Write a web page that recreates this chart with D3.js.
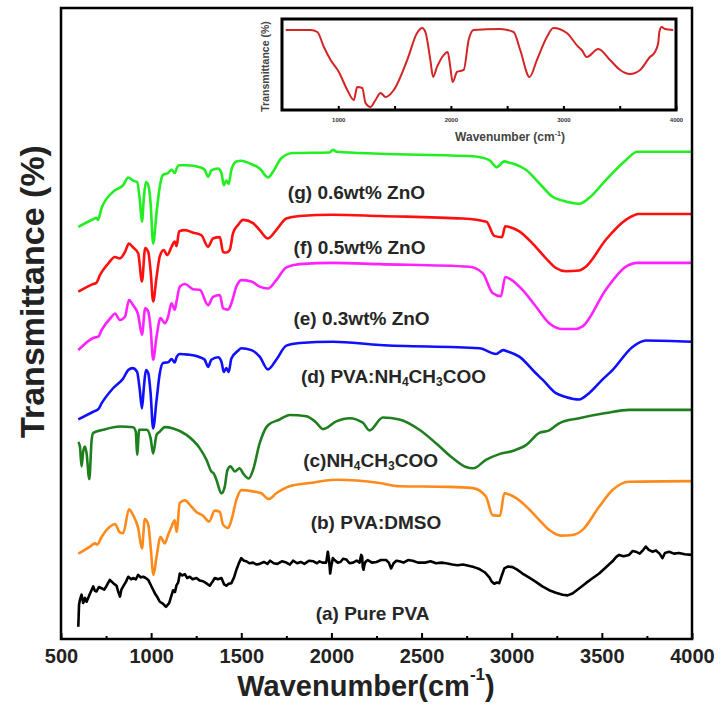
<!DOCTYPE html>
<html>
<head>
<meta charset="utf-8">
<script src="https://cdn.jsdelivr.net/npm/d3@7"></script>
<style>
  body { margin:0; background:#fff; }
  text { font-family: Arial, "Liberation Sans", sans-serif; font-weight: bold; }
</style>
</head>
<body>
<div id="ftir"></div>
<script>
// [wavenumber (cm-1), transmittance (arb. offset %)]
const purePVA = [[596,3.6],[600,7.0],[605,7.8],[614,8.6],[623,7.3],[633,8.1],[642,7.5],[661,8.8],[679,9.9],[688,9.2],[697,9.1],[710,9.8],[725,9.6],[740,9.4],[753,10.0],[771,10.9],[790,10.4],[808,10.0],[818,9.0],[827,8.3],[835,9.4],[845,9.9],[860,10.6],[873,11.4],[890,11.0],[900,11.2],[915,11.0],[928,11.7],[942,11.3],[956,11.4],[970,11.2],[984,10.9],[1000,10.0],[1021,8.8],[1035,8.2],[1048,7.5],[1065,7.2],[1082,6.7],[1100,7.3],[1112,8.4],[1122,9.3],[1132,9.0],[1141,10.1],[1150,10.5],[1159,11.9],[1172,11.6],[1187,11.8],[1200,11.2],[1214,11.4],[1230,11.0],[1251,11.2],[1270,10.8],[1288,10.7],[1305,10.4],[1325,10.0],[1340,10.6],[1353,11.2],[1370,11.0],[1390,11.2],[1405,10.2],[1417,10.0],[1430,10.3],[1445,10.4],[1460,11.3],[1473,12.5],[1488,13.6],[1500,14.3],[1515,13.9],[1528,13.8],[1545,13.5],[1565,13.6],[1585,13.3],[1602,13.4],[1625,13.7],[1645,13.4],[1660,13.9],[1680,13.5],[1700,13.4],[1725,13.8],[1750,13.6],[1770,13.3],[1787,13.9],[1810,13.5],[1830,13.7],[1850,13.4],[1875,13.9],[1900,13.8],[1920,13.5],[1934,13.8],[1950,13.6],[1971,13.6],[1980,15.3],[1987,14.0],[1993,11.9],[2000,13.2],[2008,14.3],[2017,14.0],[2035,13.6],[2050,13.7],[2065,14.2],[2082,14.1],[2100,13.5],[2120,13.6],[2140,13.9],[2156,13.6],[2165,14.8],[2170,14.6],[2174,12.9],[2178,12.5],[2185,13.5],[2192,13.8],[2202,14.0],[2225,13.6],[2250,13.7],[2275,14.0],[2303,14.0],[2318,13.6],[2331,12.7],[2345,13.5],[2360,13.9],[2377,13.8],[2400,13.6],[2425,14.0],[2451,13.9],[2480,13.6],[2520,13.6],[2550,13.8],[2580,13.5],[2610,13.6],[2636,13.5],[2670,13.3],[2700,13.2],[2730,13.3],[2760,13.1],[2790,12.9],[2821,12.6],[2850,12.1],[2876,11.3],[2890,10.6],[2903,10.3],[2918,10.5],[2931,10.4],[2945,11.6],[2959,12.7],[2980,13.0],[3005,12.9],[3030,12.5],[3060,11.9],[3095,11.3],[3134,10.6],[3170,9.9],[3208,9.3],[3245,8.9],[3282,8.6],[3310,8.5],[3337,8.8],[3370,9.5],[3411,10.4],[3450,11.2],[3485,11.9],[3520,12.8],[3559,13.8],[3580,14.5],[3596,14.8],[3620,14.6],[3651,14.8],[3670,15.4],[3688,15.3],[3710,15.0],[3730,15.6],[3744,16.1],[3760,15.6],[3780,15.3],[3800,15.5],[3820,15.0],[3836,14.3],[3850,15.1],[3873,15.3],[3900,15.0],[3928,15.1],[3960,14.9],[4000,14.8]]

const pvaDmso = [[596,15.0],[661,16.1],[688,16.6],[701,16.4],[725,17.6],[771,19.2],[799,19.6],[827,18.3],[845,18.2],[877,21.9],[900,21.0],[928,19.0],[949,15.8],[965,20.4],[984,19.5],[997,16.1],[1013,11.7],[1030,14.5],[1052,17.6],[1076,16.6],[1094,17.9],[1113,19.2],[1131,20.2],[1141,18.4],[1159,22.9],[1187,23.3],[1224,22.3],[1251,21.5],[1288,20.9],[1321,20.0],[1353,21.7],[1381,21.5],[1399,19.5],[1427,19.0],[1445,20.2],[1473,23.4],[1500,24.9],[1565,24.7],[1611,24.4],[1653,23.5],[1694,24.4],[1768,25.5],[1879,26.0],[2027,26.5],[2267,26.0],[2377,25.5],[2636,25.4],[2783,25.2],[2857,23.9],[2894,21.0],[2935,20.9],[2959,24.4],[2996,24.1],[3060,22.9],[3134,20.8],[3208,18.7],[3273,17.8],[3337,17.9],[3393,18.7],[3485,22.3],[3559,24.9],[3651,26.2],[4000,26.3]]

const nh4Ac = [[596,32.4],[605,31.7],[614,28.6],[623,30.9],[633,31.7],[642,30.6],[657,26.6],[670,32.7],[679,33.8],[734,34.3],[827,34.8],[900,34.7],[915,34.0],[922,30.4],[934,34.3],[975,34.3],[997,33.0],[1011,30.6],[1030,33.5],[1048,34.0],[1076,34.7],[1122,34.5],[1196,33.5],[1270,31.4],[1307,29.6],[1334,27.8],[1347,27.5],[1362,26.5],[1390,24.4],[1408,25.4],[1423,28.0],[1440,28.6],[1464,27.8],[1491,28.3],[1510,27.5],[1541,26.7],[1565,28.0],[1602,32.2],[1648,35.0],[1713,35.9],[1768,36.6],[1861,36.4],[1916,35.4],[1953,34.4],[2027,35.6],[2100,36.1],[2174,35.4],[2211,34.2],[2285,36.2],[2377,35.9],[2488,34.3],[2580,32.2],[2672,29.9],[2746,28.5],[2787,28.3],[2857,29.6],[2931,30.5],[3005,31.0],[3079,31.9],[3153,33.8],[3208,34.2],[3263,35.3],[3374,36.1],[3522,36.9],[3651,37.4],[4000,37.4]]

const pvaNh4 = [[596,35.9],[679,37.1],[707,37.5],[725,38.4],[790,40.8],[845,42.3],[873,43.6],[897,43.9],[922,43.3],[937,40.5],[949,37.6],[960,41.0],[971,43.6],[984,43.1],[997,40.0],[1011,34.5],[1030,38.9],[1048,43.1],[1066,44.7],[1094,44.8],[1113,45.3],[1131,44.8],[1141,45.6],[1159,46.1],[1205,46.0],[1270,45.6],[1297,45.2],[1316,44.1],[1334,45.2],[1371,45.6],[1390,44.9],[1403,43.3],[1417,43.9],[1430,43.3],[1445,45.4],[1482,46.6],[1500,47.0],[1556,46.7],[1602,45.7],[1648,43.7],[1694,45.2],[1750,47.4],[1824,47.8],[2008,48.0],[2267,47.5],[2821,47.0],[2913,46.1],[2953,46.7],[2977,46.5],[3042,45.7],[3134,43.1],[3171,42.1],[3245,40.0],[3300,39.4],[3374,39.0],[3429,40.0],[3503,42.1],[3559,43.6],[3670,47.2],[3744,48.2],[4000,48.0]]

const zno03 = [[596,46.7],[679,48.6],[707,48.8],[725,49.8],[781,51.9],[799,52.4],[827,51.4],[855,51.9],[877,54.5],[900,53.7],[928,52.2],[949,49.1],[967,53.2],[984,52.7],[998,49.8],[1011,45.2],[1030,48.8],[1052,51.7],[1076,50.9],[1094,51.9],[1113,54.0],[1131,53.0],[1141,54.3],[1159,56.6],[1187,57.0],[1233,56.2],[1270,56.1],[1316,53.7],[1343,55.0],[1381,55.3],[1399,53.2],[1427,53.0],[1445,54.0],[1473,56.6],[1500,57.6],[1556,57.4],[1602,56.6],[1648,56.3],[1694,57.6],[1750,59.6],[1824,60.1],[2008,60.3],[2267,60.1],[2765,59.7],[2839,58.7],[2894,55.6],[2940,55.1],[2964,58.1],[2996,57.7],[3060,56.1],[3134,53.5],[3208,50.9],[3282,50.0],[3356,50.0],[3393,50.4],[3522,56.1],[3633,59.7],[3697,60.3],[4000,60.3]]

const zno05 = [[596,55.8],[670,56.9],[697,57.2],[716,58.4],[762,60.2],[799,61.2],[827,61.0],[855,62.0],[877,63.3],[900,62.7],[928,61.8],[949,57.4],[967,62.6],[984,62.0],[998,58.7],[1011,54.3],[1030,58.1],[1048,61.3],[1070,62.3],[1089,61.5],[1113,62.8],[1131,63.6],[1141,62.9],[1155,65.2],[1187,65.4],[1233,65.0],[1279,64.6],[1316,62.8],[1343,64.1],[1381,64.3],[1399,62.0],[1417,61.9],[1436,62.3],[1454,64.9],[1482,66.2],[1510,67.0],[1565,66.5],[1602,65.4],[1648,64.1],[1694,65.4],[1750,67.2],[1824,67.6],[2008,67.8],[2267,67.6],[2730,67.2],[2860,66.7],[2903,64.5],[2946,64.3],[2964,66.0],[2996,65.8],[3042,65.2],[3116,63.3],[3190,61.0],[3245,59.5],[3300,59.0],[3374,59.1],[3411,59.7],[3522,63.9],[3633,67.0],[3707,67.9],[4000,67.9]]

const zno06 = [[596,65.9],[679,67.1],[697,67.3],[705,67.0],[725,68.8],[790,71.4],[845,72.4],[873,73.6],[900,73.1],[922,72.9],[937,70.1],[949,66.7],[960,70.6],[971,72.9],[984,72.4],[997,69.6],[1011,63.3],[1030,68.1],[1048,72.2],[1066,74.0],[1094,74.3],[1113,74.8],[1131,74.3],[1141,75.0],[1155,75.5],[1196,75.5],[1270,75.2],[1297,74.8],[1316,73.7],[1334,74.7],[1371,75.0],[1390,74.3],[1403,72.4],[1417,73.1],[1430,72.6],[1445,74.8],[1473,76.1],[1500,76.2],[1546,75.8],[1602,75.0],[1648,73.6],[1676,74.5],[1722,76.6],[1787,77.4],[1990,77.5],[2008,77.9],[2030,77.6],[2267,77.3],[2783,76.9],[2876,76.3],[2916,75.2],[2959,76.1],[2987,75.9],[3014,75.7],[3079,74.8],[3153,72.7],[3226,70.6],[3282,70.0],[3374,69.5],[3429,70.4],[3522,73.2],[3633,76.3],[3697,77.6],[4000,77.6]]

// inset spectrum (own 0-100 scale)
const insetSpec = [[533,87.9],[755,87.9],[814,85.7],[872,69.2],[932,54.9],[1005,41.8],[1080,22.0],[1138,11.0],[1168,25.3],[1213,24.2],[1242,7.7],[1286,3.3],[1331,11.0],[1375,18.7],[1420,14.3],[1493,22.0],[1612,54.9],[1700,84.6],[1745,90.1],[1774,85.7],[1818,54.9],[1842,36.3],[1877,47.3],[1936,60.4],[1972,63.7],[1995,47.3],[2016,30.8],[2055,41.8],[2114,44.0],[2158,76.9],[2202,87.9],[2438,89.0],[2557,85.7],[2616,65.9],[2699,36.3],[2764,54.9],[2853,80.2],[2911,90.1],[3030,84.6],[3133,69.2],[3163,65.9],[3207,58.2],[3310,67.0],[3414,54.9],[3503,44.0],[3592,39.6],[3681,44.0],[3768,58.2],[3813,63.7],[3842,73.6],[3852,85.7],[3872,91.2],[3902,89.0],[3975,87.9]]

const seriesList = [purePVA, pvaDmso, nh4Ac, pvaNh4, zno03, zno05, zno06]
const labelNames = ["(a) Pure PVA", "(b) PVA:DMSO", "(c)NH_4CH_3COO", "(d) PVA:NH_4CH_3COO",
  "(e) 0.3wt% ZnO", "(f) 0.5wt% ZnO", "(g) 0.6wt% ZnO"]
const labelAt = [[2228,5.7],[2247,20.0],[2217,29.6],[2344,42.6],[2167,51.7],[2156,62.7],[2139,71.3]]
const xTicks = [500,1000,1500,2000,2500,3000,3500,4000]
const xMinor = [750,1250,1750,2250,2750,3250,3750]
const insetTicks = [1000,2000,3000,4000]
const insetMinor = [1500,2500,3500]

const colors = ["#000000","#ff8a1c","#1f7f1f","#1010ff","#ff22ff","#ff1010","#22ee22"]

const margin = {top:8, right:29, bottom:66, left:61},
  width = 721 - margin.left - margin.right,
  height = 705 - margin.top - margin.bottom;

const x = d3.scaleLinear().domain([500,4000]).range([0, width])
const y = d3.scaleLinear().domain([1.7,100]).range([height, 0])

const svg = d3.select("#ftir")
  .append("svg")
    .attr("width", width + margin.left + margin.right)
    .attr("height", height + margin.top + margin.bottom)
  .append("g")
    .attr("transform","translate(" + margin.left + "," + margin.top + ")");

//x axis, ticks pointing inward
svg.append("g")
  .attr("transform", "translate(0," + height + ")")
  .call(d3.axisBottom(x).tickValues(xTicks).tickFormat(d3.format("d"))
    .tickSizeInner(-6).tickSizeOuter(0).tickPadding(10))
  .call(g => g.select(".domain").remove())
  .call(g => g.selectAll("line").attr("stroke","#000").attr("stroke-width",2))
  .call(g => g.selectAll("text").attr("font-size",20).attr("font-family","Arial, 'Liberation Sans', sans-serif").attr("fill","#222"))
svg.append("g")
  .attr("transform", "translate(0," + height + ")")
  .call(d3.axisBottom(x).tickValues(xMinor).tickSizeInner(-3).tickSizeOuter(0).tickFormat(""))
  .call(g => g.select(".domain").remove())
  .call(g => g.selectAll("line").attr("stroke","#000").attr("stroke-width",2))

const line = d3.line().x(d => x(d[0])).y(d => y(d[1]))

seriesList.forEach((s, i) => {
  svg.append("path")
    .datum(s)
    .attr("d", line.curve(i == 0 ? d3.curveLinear : d3.curveMonotoneX))
    .attr("fill","none")
    .attr("stroke", colors[i])
    .attr("stroke-width", 2.6)
    .attr("stroke-linejoin","round")
})

// curve labels, "_n" marks a subscript
labelNames.forEach((name, i) => {
  const t = svg.append("text")
    .attr("x", x(labelAt[i][0]))
    .attr("y", y(labelAt[i][1]))
    .attr("text-anchor","middle")
    .attr("dominant-baseline","central")
    .attr("font-size", 19)
    .attr("fill","#262626")
  name.split(/_(\d)/).forEach((part, j) => {
    if (!part) return
    if (j % 2 == 1) t.append("tspan").attr("font-size",12).attr("dy",6).text(part)
    else t.append("tspan").attr("dy", j > 0 ? -6 : 0).text(part)
  })
})

// frame
svg.append("rect")
  .attr("width", width).attr("height", height)
  .attr("fill","none").attr("stroke","#000").attr("stroke-width",2.5)

// axis titles
svg.append("text")
  .attr("transform","translate(-29," + (height/2 - 32) + ") rotate(-90)")
  .attr("text-anchor","middle").attr("dominant-baseline","central")
  .attr("font-size",34).attr("fill","#222")
  .text("Transmittance (%)")

const xt = svg.append("text")
  .attr("x", 305).attr("y", height + 47)
  .attr("text-anchor","middle").attr("dominant-baseline","central")
  .attr("font-size",29).attr("fill","#222")
xt.append("tspan").text("Wavenumber(cm")
xt.append("tspan").attr("font-size",17).attr("dy",-12).text("-1")
xt.append("tspan").attr("dy",12).text(")")

// inset
const inW = 394, inH = 91
const inset = svg.append("g").attr("transform","translate(221,11)")
const xi = d3.scaleLinear().domain([500,4000]).range([0, inW])
const yi = d3.scaleLinear().domain([0,100]).range([inH, 0])

inset.append("rect").attr("width",inW).attr("height",inH).attr("fill","#fff")
inset.append("path")
  .datum(insetSpec)
  .attr("d", d3.line().x(d => xi(d[0])).y(d => yi(d[1])).curve(d3.curveMonotoneX))
  .attr("fill","none").attr("stroke","#d42424").attr("stroke-width",2)

inset.append("g")
  .attr("transform","translate(0," + inH + ")")
  .call(d3.axisBottom(xi).tickValues(insetTicks).tickFormat(d3.format("d"))
    .tickSizeInner(-4).tickSizeOuter(0).tickPadding(8))
  .call(g => g.select(".domain").remove())
  .call(g => g.selectAll("line").attr("stroke","#000").attr("stroke-width",2))
  .call(g => g.selectAll("text").attr("font-size",6).attr("font-family","Arial, 'Liberation Sans', sans-serif").attr("fill","#333"))
inset.append("g")
  .attr("transform","translate(0," + inH + ")")
  .call(d3.axisBottom(xi).tickValues(insetMinor).tickSizeInner(-4).tickSizeOuter(0).tickFormat(""))
  .call(g => g.select(".domain").remove())
  .call(g => g.selectAll("line").attr("stroke","#000").attr("stroke-width",2))

inset.append("rect").attr("width",inW).attr("height",inH)
  .attr("fill","none").attr("stroke","#000").attr("stroke-width",3)

inset.append("text")
  .attr("transform","translate(-17," + (inH/2 + 2) + ") rotate(-90)")
  .attr("text-anchor","middle").attr("dominant-baseline","central")
  .attr("font-size",10.5).attr("fill","#444")
  .text("Transmittance (%)")

const it = inset.append("text")
  .attr("x", 228).attr("y", inH + 27)
  .attr("text-anchor","middle").attr("dominant-baseline","central")
  .attr("font-size",12).attr("fill","#444")
it.append("tspan").text("Wavenumber (cm")
it.append("tspan").attr("font-size",7).attr("dy",-4).text("-1")
it.append("tspan").attr("dy",4).text(")")
</script>
</body>
</html>
